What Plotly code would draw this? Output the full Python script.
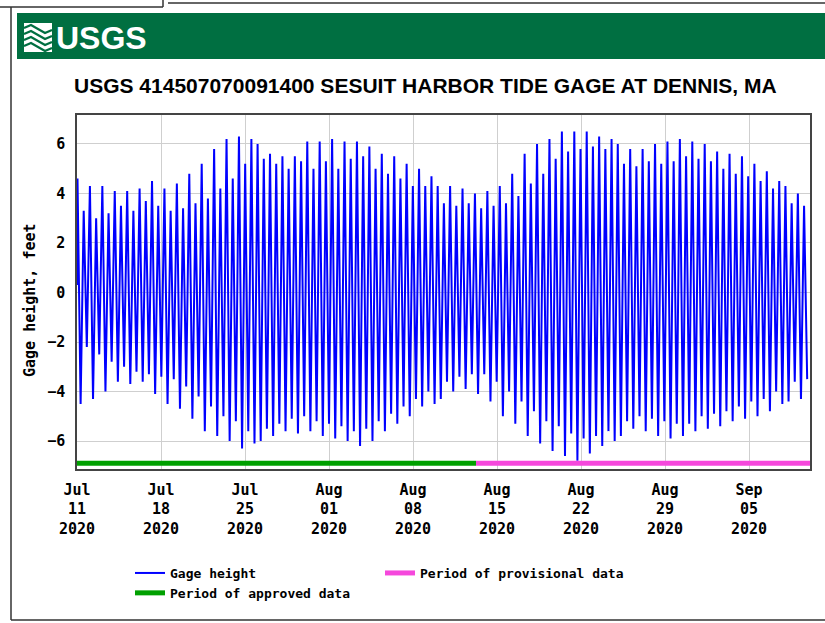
import plotly.graph_objects as go
import pandas as pd

# gage height at each high and low tide (feet)
high_tide_ft = [
    4.6, 3.3, 4.3, 3.0, 4.3, 3.2, 4.1, 3.5, 4.1, 3.3, 4.2, 3.7, 4.5, 3.5,
    4.2, 3.3, 4.4, 3.4, 4.8, 3.6, 5.2, 3.8, 5.8, 4.2, 6.2, 4.6, 6.3, 5.2,
    6.2, 6.0, 5.4, 5.6, 5.2, 5.5, 5.0, 5.5, 5.3, 6.1, 5.0, 6.1, 5.3, 6.2,
    5.0, 6.1, 5.4, 6.1, 5.5, 5.9, 5.0, 5.6, 4.8, 5.5, 4.6, 5.2, 4.3, 5.0,
    4.3, 4.7, 4.3, 3.6, 4.3, 3.5, 4.2, 3.6, 4.0, 3.4, 4.1, 3.5, 4.3, 3.6,
    4.8, 3.9, 5.6, 4.4, 6.0, 4.8, 6.2, 5.4, 6.5, 5.7, 6.5, 5.8, 6.5, 5.9,
    6.3, 5.8, 6.2, 6.0, 5.2, 5.8, 5.1, 5.8, 5.3, 6.0, 5.2, 6.1, 5.3, 6.2,
    5.5, 6.1, 5.4, 6.0, 5.3, 5.7, 5.0, 5.6, 4.8, 5.5, 4.7, 5.2, 4.5, 4.9,
    4.2, 4.5, 4.3, 3.6, 4.0, 3.5,
]
low_tide_ft = [
    -4.5, -2.2, -4.3, -2.5, -4.0, -2.8, -3.6, -3.0, -3.7, -3.2, -3.6, -3.3,
    -4.1, -3.4, -4.5, -3.5, -4.7, -3.8, -5.1, -4.2, -5.6, -4.6, -5.8, -5.0,
    -6.0, -5.2, -6.3, -5.6, -6.1, -6.0, -5.5, -5.8, -5.3, -5.6, -5.1, -5.7,
    -5.0, -5.6, -5.2, -5.8, -5.3, -5.9, -5.4, -6.0, -5.6, -6.2, -5.5, -6.0,
    -5.2, -5.6, -4.9, -5.3, -4.6, -5.0, -4.3, -4.6, -4.0, -4.5, -4.3, -3.6,
    -4.0, -3.4, -3.9, -3.3, -4.1, -3.3, -4.4, -3.6, -5.0, -4.0, -5.3, -4.4,
    -5.8, -4.8, -6.1, -5.2, -6.4, -5.4, -6.6, -5.7, -6.8, -5.9, -6.5, -5.8,
    -6.2, -5.6, -6.0, -5.8, -5.2, -5.5, -5.0, -5.6, -5.1, -5.8, -5.2, -5.9,
    -5.3, -5.8, -5.3, -5.6, -5.0, -5.5, -4.9, -5.4, -4.8, -5.2, -4.6, -5.1,
    -4.4, -5.0, -4.3, -4.8, -4.0, -4.5, -4.4, -3.6, -4.3, -3.5,
]
first_reading_time = "2020-07-11 00:00"
first_reading_ft = 0.3
first_high_time = "2020-07-11 01:00"
half_tide_minutes = 372.6

approved_period = ["2020-07-11 00:00", "2020-08-13 06:00"]
provisional_period = ["2020-08-13 06:00", "2020-09-10 02:00"]
period_bar_ft = -6.9

tick_dates = ["2020-07-11", "2020-07-18", "2020-07-25", "2020-08-01", "2020-08-08",
              "2020-08-15", "2020-08-22", "2020-08-29", "2020-09-05"]
tick_labels = ["Jul<br>11<br>2020", "Jul<br>18<br>2020", "Jul<br>25<br>2020",
               "Aug<br>01<br>2020", "Aug<br>08<br>2020", "Aug<br>15<br>2020",
               "Aug<br>22<br>2020", "Aug<br>29<br>2020", "Sep<br>05<br>2020"]
y_ticks = [-6, -4, -2, 0, 2, 4, 6]

# interleave highs and lows in time order
t0 = pd.Timestamp(first_high_time)
times = [pd.Timestamp(first_reading_time)]
levels = [first_reading_ft]
for i, (hi, lo) in enumerate(zip(high_tide_ft, low_tide_ft)):
    times.append(t0 + pd.Timedelta(minutes=2 * i * half_tide_minutes))
    levels.append(hi)
    times.append(t0 + pd.Timedelta(minutes=(2 * i + 1) * half_tide_minutes))
    levels.append(lo)

W, H = 825, 623
L, R, T, B = 77, 810, 115, 469


def px(x):
    return (x - L) / (R - L)


def py(y):
    return (B - y) / (B - T)


mono = "DejaVu Sans Mono"
green_band = "#006F41"
frame = dict(color="#333333", width=1.5)

fig = go.Figure()
fig.add_trace(go.Scatter(x=times, y=levels, mode="lines", name="Gage height",
                         line=dict(color="#0000FF", width=2)))
fig.add_trace(go.Scatter(x=provisional_period, y=[period_bar_ft] * 2, mode="lines",
                         name="Period of provisional data",
                         line=dict(color="#F548DC", width=5)))
fig.add_trace(go.Scatter(x=approved_period, y=[period_bar_ft] * 2, mode="lines",
                         name="Period of approved data",
                         line=dict(color="#00A000", width=5)))

fig.update_xaxes(range=["2020-07-11 00:00", "2020-09-10 02:00"],
                 tickvals=tick_dates, ticktext=tick_labels,
                 showgrid=True, gridcolor="#cfcfcf", gridwidth=1,
                 showline=True, linecolor="#444444", linewidth=1.5, mirror=True,
                 ticks="", ticklabelstandoff=6,
                 tickfont=dict(family=mono, size=15, color="black", weight="bold"))
fig.update_yaxes(range=[-7.13, 7.17], tickvals=y_ticks,
                 showgrid=True, gridcolor="#cfcfcf", gridwidth=1, zeroline=False,
                 showline=True, linecolor="#444444", linewidth=1.5, mirror=True,
                 ticks="", ticklabelstandoff=7,
                 tickfont=dict(family=mono, size=15, color="black", weight="bold"))

shapes = [
    # page frame
    dict(type="line", x0=px(0), x1=px(163), y0=py(7), y1=py(7), line=frame),
    dict(type="line", x0=px(163), x1=px(163), y0=py(0), y1=py(7), line=frame),
    dict(type="line", x0=px(168), x1=px(825), y0=py(3), y1=py(3), line=frame),
    dict(type="line", x0=px(11), x1=px(11), y0=py(7), y1=py(620), line=frame),
    dict(type="line", x0=px(11), x1=px(825), y0=py(620), y1=py(620), line=frame),
    # USGS banner
    dict(type="rect", x0=px(17), x1=px(826), y0=py(59), y1=py(13),
         fillcolor=green_band, line=dict(width=0)),
    dict(type="rect", x0=px(24), x1=px(52), y0=py(52), y1=py(23),
         fillcolor="white", line=dict(width=0)),
]
# wave stripes of the logo
for dy in [28, 34, 40, 46]:
    pts = [(24, dy), (31, dy - 3), (38, dy + 1), (45, dy + 5), (52, dy + 2)]
    path = "M " + " L ".join(f"{px(a):.5f},{py(b):.5f}" for a, b in pts)
    shapes.append(dict(type="path", path=path, line=dict(color=green_band, width=2.2)))
for s in shapes:
    s["xref"] = "paper"
    s["yref"] = "paper"

fig.update_layout(shapes=shapes)

fig.add_annotation(x=px(54), y=py(38), xref="paper", yref="paper", xanchor="left",
                   yanchor="middle", text="<b>USGS</b>", showarrow=False,
                   font=dict(family="Liberation Sans", size=32, color="white"))
fig.add_annotation(x=px(425), y=py(86), xref="paper", yref="paper", xanchor="center",
                   yanchor="middle",
                   text="<b>USGS 414507070091400 SESUIT HARBOR TIDE GAGE AT DENNIS, MA</b>",
                   showarrow=False,
                   font=dict(family="Liberation Sans", size=21, color="black"))
fig.add_annotation(x=px(30), y=py(300), xref="paper", yref="paper", textangle=-90,
                   xanchor="center", yanchor="middle",
                   text="Gage height, feet", showarrow=False,
                   font=dict(family=mono, size=15, color="black", weight="bold"))

fig.update_layout(
    width=W, height=H,
    margin=dict(l=L, r=W - R, t=T, b=H - B),
    plot_bgcolor="white", paper_bgcolor="white",
    legend=dict(orientation="h", x=px(130), y=py(558), xanchor="left", yanchor="top",
                entrywidth=205, entrywidthmode="pixels",
                font=dict(family=mono, size=13, color="black", weight="bold")),
)

# the page body has a default 8px margin; drop it so the figure sits at the corner
fig.write_html("out.html", config={"displayModeBar": False},
               post_script="document.body.style.margin = '0px';")
